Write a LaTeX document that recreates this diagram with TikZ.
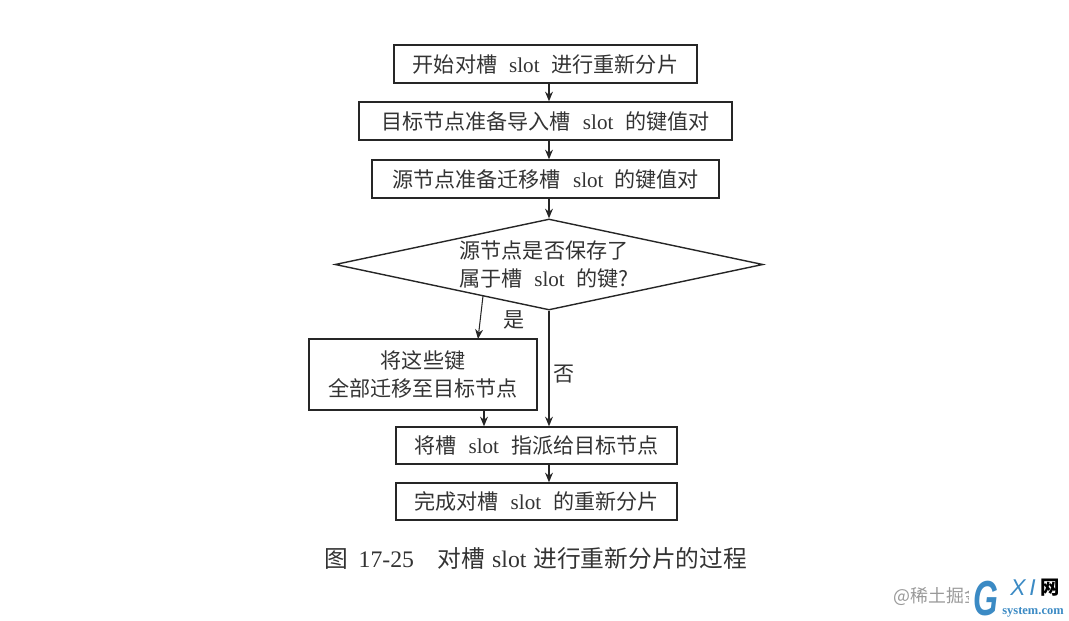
\documentclass[tikz,border=0pt]{standalone}
\usepackage{fontspec}
\usepackage{graphicx}
\usepackage{xcolor}
\usetikzlibrary{shapes.geometric}
\usetikzlibrary{arrows.meta}
\setmainfont{Noto Sans CJK SC}
\newfontfamily\latinfont{Liberation Serif}
\newfontfamily\logofont{Liberation Sans}
\newcommand{\slotword}[1][0.24cm]{\hspace{0.24cm}{\latinfont slot}\hspace{#1}}
\definecolor{logoblue}{HTML}{3B8AC4}

\begin{document}
\begin{tikzpicture}[
  % boxes and the decision
  step_box/.style={rectangle, draw=black!85, line width=0.8pt, text=black!80, font=\fontsize{12}{16}\selectfont, align=center, inner sep=0pt},
  decision_node/.style={diamond, draw=black!85, line width=0.8pt, text=black!80, font=\fontsize{12}{16}\selectfont, align=center, inner sep=0pt, aspect=4.7, minimum width=8.56cm, minimum height=1.82cm},
  % connectors and their labels
  flow/.style={line width=0.6pt, draw=black!85, -{Stealth[length=5.5pt, width=4.5pt]}},
  edge_label/.style={inner sep=2pt, text=black!80, font=\fontsize{12}{14}\selectfont}
]
\useasboundingbox (0,0) rectangle (21.38,12.4);

% flow nodes
\node[step_box, minimum width=6.06cm, minimum height=0.76cm] (start) at (10.91, 11.12) {开始对槽\slotword 进行重新分片};
\node[step_box, minimum width=7.46cm, minimum height=0.76cm] (target) at (10.91, 9.98) {目标节点准备导入槽\slotword 的键值对};
\node[step_box, minimum width=6.94cm, minimum height=0.76cm] (source) at (10.91, 8.82) {源节点准备迁移槽\slotword[0.12cm] 的键值对};
\node[decision_node] (check) at (10.98, 7.11) {源节点是否保存了\hspace*{0.2cm}\\属于槽\slotword 的键?\hspace*{0.2cm}};
\node[step_box, minimum width=4.56cm, minimum height=1.42cm] (migrate) at (8.46, 4.91) {将这些键\\全部迁移至目标节点};
\node[step_box, minimum width=5.62cm, minimum height=0.74cm] (assign) at (10.73, 3.49) {将槽\slotword 指派给目标节点};
\node[step_box, minimum width=5.62cm, minimum height=0.74cm] (finish) at (10.73, 2.37) {完成对槽\slotword 的重新分片};

% free ends of the slanted and the offset arrow
\coordinate (yes_top) at (9.66, 6.48);
\coordinate (yes_end) at (9.56, 5.62);
\coordinate (merge) at (9.68, 3.9);

% connectors
\draw[flow] (start.south -| check) -- (target.north -| check);
\draw[flow] (target.south -| check) -- (source.north -| check);
\draw[flow] (source.south -| check) -- (check.north);
\draw[flow] (yes_top) -- node[edge_label, right, xshift=0.37cm, yshift=-0.05cm] {是} (yes_end);
\draw[flow] (check.south) -- node[edge_label, pos=0.55, right] {否} (assign.north -| check);
\draw[flow] (merge |- migrate.south) -- (merge |- assign.north);
\draw[flow] (assign.south -| check) -- (finish.north -| check);

% caption
\node[text=black!80, font=\fontsize{13.5}{16}\selectfont] (caption) at (10.72, 1.24) {图\hspace{0.2cm}{\latinfont 17-25}\quad 对槽\hspace{0.14cm}{\latinfont slot}\hspace{0.14cm}进行重新分片的过程};

% watermark and logo
\node[anchor=west, inner sep=0pt, text=black!40, font=\fontsize{10.2}{12}\selectfont] (mark) at (17.86, 0.48) {@稀土掘金};
\node[anchor=west, inner ysep=0pt, inner xsep=0.08cm, fill=white, text=logoblue, font=\logofont\bfseries\itshape\fontsize{28}{30}\selectfont] (logo_g) at (19.38, 0.42) {\scalebox{0.65}[1]{G}};
\node[anchor=west, inner sep=0pt, text=logoblue, font=\logofont\itshape\fontsize{13}{14}\selectfont] (logo_xi) at (20.2, 0.64) {X\,I};
\node[anchor=west, inner sep=0pt, text=black, font=\fontsize{11}{12}\bfseries\selectfont] (logo_net) at (20.8, 0.64) {网};
\node[anchor=west, inner sep=0pt, text=logoblue, font=\latinfont\bfseries\fontsize{7.1}{8}\selectfont] (logo_site) at (20.04, 0.16) {system.com};

\end{tikzpicture}
\end{document}
